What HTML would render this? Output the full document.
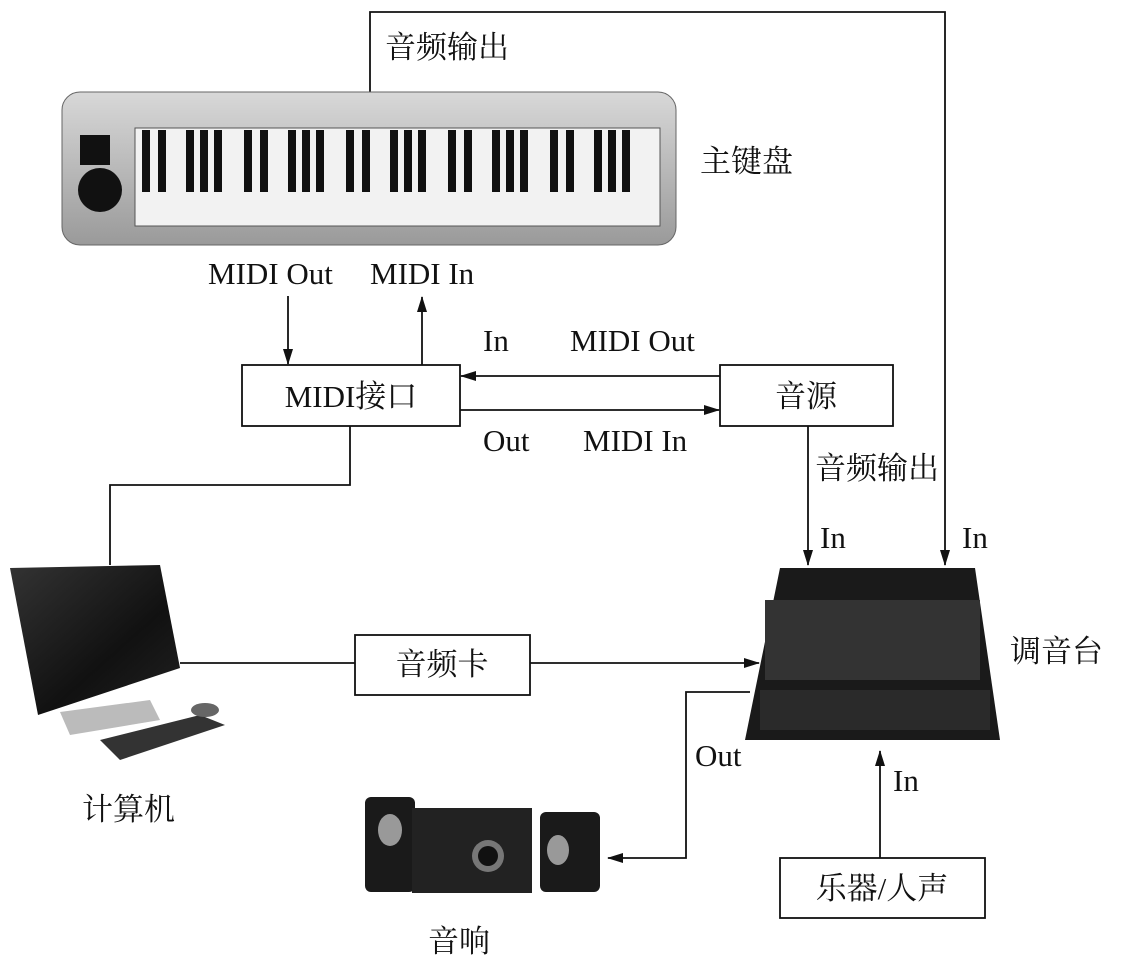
<!DOCTYPE html>
<html><head><meta charset="utf-8"><style>
html,body{margin:0;padding:0;background:#fff;}
svg{display:block;}
text{font-family:"Liberation Serif","Noto Serif CJK SC",serif;font-size:31px;fill:#111;}
</style></head><body>
<svg width="1128" height="969" viewBox="0 0 1128 969" xmlns="http://www.w3.org/2000/svg">
<defs>
<marker id="a" markerWidth="16" markerHeight="12" refX="15" refY="6" orient="auto" markerUnits="userSpaceOnUse"><path d="M0,1 L16,6 L0,11 z" fill="#111"/></marker>
<linearGradient id="kb" x1="0" y1="0" x2="0" y2="1"><stop offset="0" stop-color="#d8d8d8"/><stop offset="1" stop-color="#9a9a9a"/></linearGradient>
<linearGradient id="mon" x1="0" y1="0" x2="1" y2="1"><stop offset="0" stop-color="#333"/><stop offset="0.6" stop-color="#111"/><stop offset="1" stop-color="#222"/></linearGradient>
</defs>
<g stroke="#111" stroke-width="1.8" fill="none">
<polyline points="370,92 370,12 945,12 945,565" marker-end="url(#a)"/>
<line x1="288" y1="296" x2="288" y2="364" marker-end="url(#a)"/>
<line x1="422" y1="365" x2="422" y2="297" marker-end="url(#a)"/>
<line x1="720" y1="376" x2="461" y2="376" marker-end="url(#a)"/>
<line x1="460" y1="410" x2="719" y2="410" marker-end="url(#a)"/>
<line x1="808" y1="426" x2="808" y2="565" marker-end="url(#a)"/>
<polyline points="350,426 350,485 110,485 110,565"/>
<line x1="180" y1="663" x2="355" y2="663"/>
<line x1="530" y1="663" x2="759" y2="663" marker-end="url(#a)"/>
<polyline points="750,692 686,692 686,858 608,858" marker-end="url(#a)"/>
<line x1="880" y1="858" x2="880" y2="751" marker-end="url(#a)"/>
<rect x="242" y="365" width="218" height="61"/>
<rect x="720" y="365" width="173" height="61"/>
<rect x="355" y="635" width="175" height="60"/>
<rect x="780" y="858" width="205" height="60"/>
</g>
<rect x="62" y="92" width="614" height="153" rx="18" fill="url(#kb)" stroke="#666"/>
<rect x="135" y="128" width="525" height="98" fill="#f2f2f2" stroke="#555"/>
<g fill="#111">
<rect x="80" y="135" width="30" height="30"/><circle cx="100" cy="190" r="22"/>
</g>
<g fill="#111">
<rect x="142" y="130" width="8" height="62"/><rect x="158" y="130" width="8" height="62"/><rect x="186" y="130" width="8" height="62"/><rect x="200" y="130" width="8" height="62"/><rect x="214" y="130" width="8" height="62"/>
<rect x="244" y="130" width="8" height="62"/><rect x="260" y="130" width="8" height="62"/><rect x="288" y="130" width="8" height="62"/><rect x="302" y="130" width="8" height="62"/><rect x="316" y="130" width="8" height="62"/>
<rect x="346" y="130" width="8" height="62"/><rect x="362" y="130" width="8" height="62"/><rect x="390" y="130" width="8" height="62"/><rect x="404" y="130" width="8" height="62"/><rect x="418" y="130" width="8" height="62"/>
<rect x="448" y="130" width="8" height="62"/><rect x="464" y="130" width="8" height="62"/><rect x="492" y="130" width="8" height="62"/><rect x="506" y="130" width="8" height="62"/><rect x="520" y="130" width="8" height="62"/>
<rect x="550" y="130" width="8" height="62"/><rect x="566" y="130" width="8" height="62"/><rect x="594" y="130" width="8" height="62"/><rect x="608" y="130" width="8" height="62"/><rect x="622" y="130" width="8" height="62"/>
</g>
<polygon points="10,568 160,565 180,668 38,715" fill="url(#mon)"/>
<polygon points="60,712 150,700 160,720 70,735" fill="#bbb"/>
<polygon points="100,740 200,715 225,725 120,760" fill="#333"/>
<ellipse cx="205" cy="710" rx="14" ry="7" fill="#666"/>
<polygon points="780,568 975,568 1000,740 745,740" fill="#1a1a1a"/>
<rect x="765" y="600" width="215" height="80" fill="#333"/>
<rect x="760" y="690" width="230" height="40" fill="#2a2a2a"/>
<rect x="365" y="797" width="50" height="95" rx="6" fill="#1a1a1a"/>
<rect x="412" y="808" width="120" height="85" fill="#222"/>
<circle cx="488" cy="856" r="16" fill="#777"/><circle cx="488" cy="856" r="10" fill="#111"/>
<rect x="540" y="812" width="60" height="80" rx="6" fill="#1a1a1a"/>
<ellipse cx="390" cy="830" rx="12" ry="16" fill="#999"/><ellipse cx="558" cy="850" rx="11" ry="15" fill="#999"/>
<text x="385" y="58">音频输出</text>
<text x="700" y="172">主键盘</text>
<text x="208" y="284">MIDI Out</text>
<text x="370" y="284">MIDI In</text>
<text x="483" y="351">In</text>
<text x="570" y="351">MIDI Out</text>
<text x="351" y="407" text-anchor="middle">MIDI接口</text>
<text x="806" y="407" text-anchor="middle">音源</text>
<text x="483" y="451">Out</text>
<text x="583" y="451">MIDI In</text>
<text x="815" y="479">音频输出</text>
<text x="820" y="548">In</text>
<text x="962" y="548">In</text>
<text x="1010" y="662">调音台</text>
<text x="442" y="675" text-anchor="middle">音频卡</text>
<text x="695" y="766">Out</text>
<text x="893" y="791">In</text>
<text x="82" y="820">计算机</text>
<text x="882" y="899" text-anchor="middle">乐器/人声</text>
<text x="428" y="952">音响</text>
</svg>
</body></html>
